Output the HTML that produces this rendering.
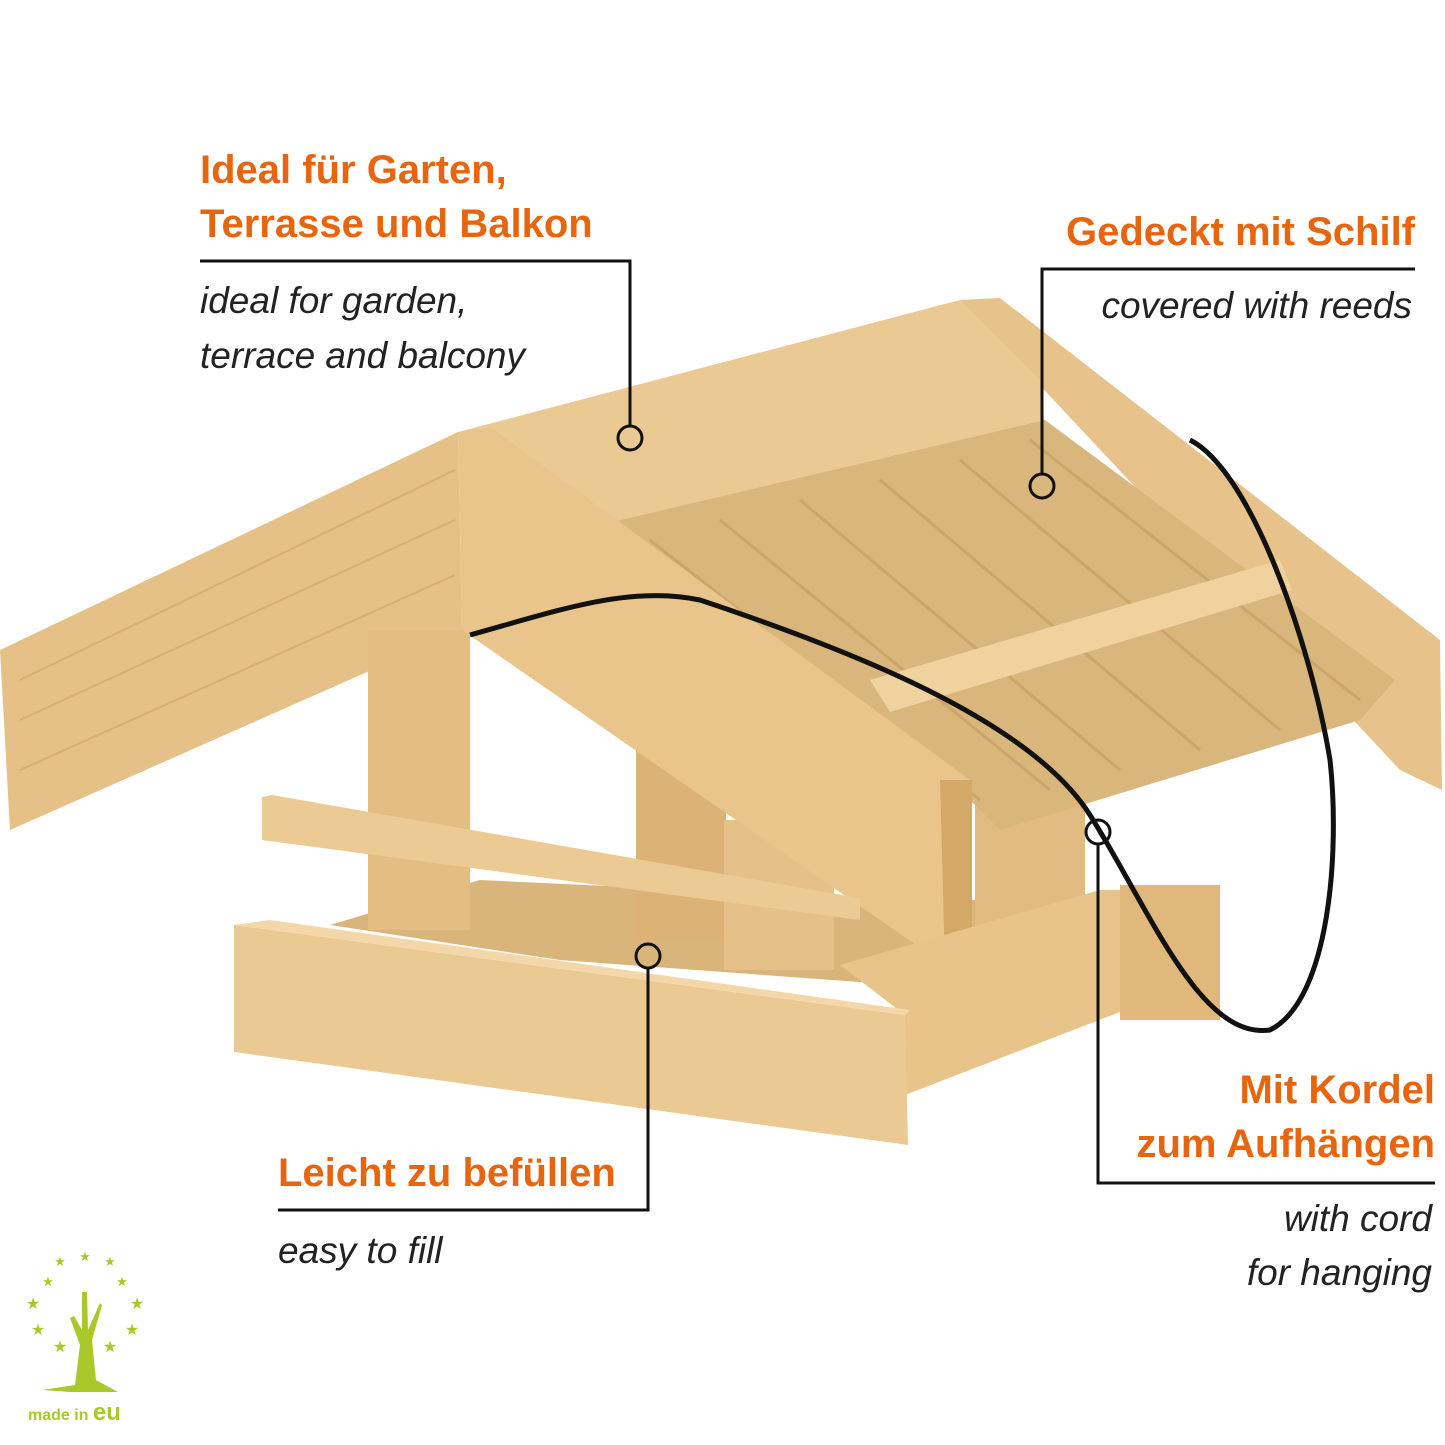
<!DOCTYPE html>
<html><head><meta charset="utf-8">
<style>
html,body{margin:0;padding:0;background:#fff;}
svg{display:block}
.o{font-family:"Liberation Sans",sans-serif;font-weight:bold;fill:#e8650f;font-size:40px}
.i{font-family:"Liberation Sans",sans-serif;font-style:italic;fill:#222;font-size:37px}
</style></head><body>
<svg width="1445" height="1445" viewBox="0 0 1445 1445" xmlns="http://www.w3.org/2000/svg">
<rect width="1445" height="1445" fill="#fff"/>
<!-- floor -->
<polygon points="330,925 480,880 900,900 1100,900 900,985 560,960" fill="#d9b57c"/>
<!-- back posts -->
<rect x="636" y="740" width="90" height="200" fill="#dcb276"/>
<rect x="975" y="790" width="110" height="160" fill="#e2bb82"/>
<!-- right roof panel -->
<polygon points="960,300 1000,298 1440,640 1442,790 1400,770" fill="#e7c38b"/>
<!-- back roof top board -->
<polygon points="458,432 960,300 1040,380 1045,430 610,525" fill="#ebc993"/>
<!-- reed area -->
<polygon points="600,525 1045,420 1395,680 1360,720 1000,830 960,790" fill="#d9b67c"/>
<g stroke="#c49a5c" stroke-width="3" opacity="0.6">
<line x1="650" y1="540" x2="980" y2="800"/><line x1="720" y1="520" x2="1050" y2="790"/>
<line x1="800" y1="500" x2="1120" y2="770"/><line x1="880" y1="480" x2="1200" y2="750"/>
<line x1="960" y1="460" x2="1280" y2="730"/><line x1="1030" y1="440" x2="1360" y2="700"/>
</g>
<!-- cross bar -->
<polygon points="870,680 1280,560 1292,590 890,712" fill="#f0d29e"/>
<!-- left roof slab -->
<polygon points="0,650 458,432 462,630 10,830" fill="#e5c087"/>
<g stroke="#cfa469" stroke-width="2" opacity="0.6">
<line x1="20" y1="680" x2="455" y2="470"/><line x1="20" y1="720" x2="455" y2="520"/><line x1="20" y1="770" x2="455" y2="575"/>
</g>
<!-- left post -->
<rect x="368" y="630" width="102" height="300" fill="#e3bd82"/>
<!-- center post front -->
<rect x="724" y="820" width="110" height="150" fill="#e5c088"/>
<!-- front gable slab -->
<polygon points="458,432 492,428 970,780 972,965 945,965 462,630" fill="#e9c58c"/>
<polygon points="940,780 972,780 972,965 945,965" fill="#d4a866"/>
<!-- rail -->
<polygon points="262,797 272,795 860,898 860,920 262,840" fill="#ecca94"/>
<!-- base right plank -->
<polygon points="840,965 1100,890 1125,890 1125,1010 905,1095 905,1015" fill="#e8c48b"/>
<rect x="1120" y="885" width="100" height="135" fill="#e1b87b"/>
<!-- base front plank -->
<polygon points="234,925 905,1015 908,1145 234,1052" fill="#ebc992"/>
<polygon points="234,925 270,920 910,1010 905,1015" fill="#f3d7a8"/>
<!-- cord -->
<path d="M470,635 C560,610 630,585 700,600 C850,650 1030,720 1090,815 C1150,910 1200,1040 1270,1030 C1330,1000 1340,850 1330,760 C1310,640 1250,470 1190,440" fill="none" stroke="#111" stroke-width="5"/>
<!-- callouts -->
<g fill="none" stroke="#111" stroke-width="3">
<polyline points="200,261 630,261 630,425"/><circle cx="630" cy="438" r="12"/>
<polyline points="1415,269 1042,269 1042,473"/><circle cx="1042" cy="486" r="12"/>
<polyline points="1435,1183 1098,1183 1098,845"/><circle cx="1098" cy="832" r="12"/>
<polyline points="278,1210 648,1210 648,969"/><circle cx="648" cy="956" r="12"/>
</g>
<text class="o" x="200" y="183">Ideal für Garten,</text>
<text class="o" x="200" y="237">Terrasse und Balkon</text>
<text class="i" x="200" y="313">ideal for garden,</text>
<text class="i" x="200" y="368">terrace and balcony</text>
<text class="o" x="1415" y="245" text-anchor="end">Gedeckt mit Schilf</text>
<text class="i" x="1412" y="318" text-anchor="end">covered with reeds</text>
<text class="o" x="1435" y="1103" text-anchor="end">Mit Kordel</text>
<text class="o" x="1435" y="1157" text-anchor="end">zum Aufhängen</text>
<text class="i" x="1432" y="1231" text-anchor="end">with cord</text>
<text class="i" x="1432" y="1285" text-anchor="end">for hanging</text>
<text class="o" x="278" y="1186">Leicht zu befüllen</text>
<text class="i" x="278" y="1263">easy to fill</text>
<!-- logo -->
<g fill="#a9c92a" font-family="Liberation Sans,sans-serif" font-size="13">
<text x="85" y="1261" text-anchor="middle">★</text><text x="60" y="1266" text-anchor="middle">★</text><text x="110" y="1266" text-anchor="middle">★</text>
<text x="48" y="1286" text-anchor="middle">★</text><text x="122" y="1286" text-anchor="middle">★</text>
<text x="33" y="1309" text-anchor="middle" font-size="16">★</text><text x="137" y="1309" text-anchor="middle" font-size="16">★</text>
<text x="38" y="1335" text-anchor="middle" font-size="16">★</text><text x="132" y="1335" text-anchor="middle" font-size="16">★</text>
<text x="60" y="1352" text-anchor="middle" font-size="16">★</text><text x="110" y="1352" text-anchor="middle" font-size="16">★</text>
<path d="M82,1292 L87,1292 L88,1330 L100,1303 L102,1305 L92,1340 L96,1380 L118,1392 L70,1392 L42,1390 L75,1385 L80,1345 L70,1318 L74,1316 L82,1330 Z"/>
<text x="28" y="1420" font-size="16" font-weight="bold">made in <tspan font-size="24">eu</tspan></text>
</g>
</svg>
</body></html>
